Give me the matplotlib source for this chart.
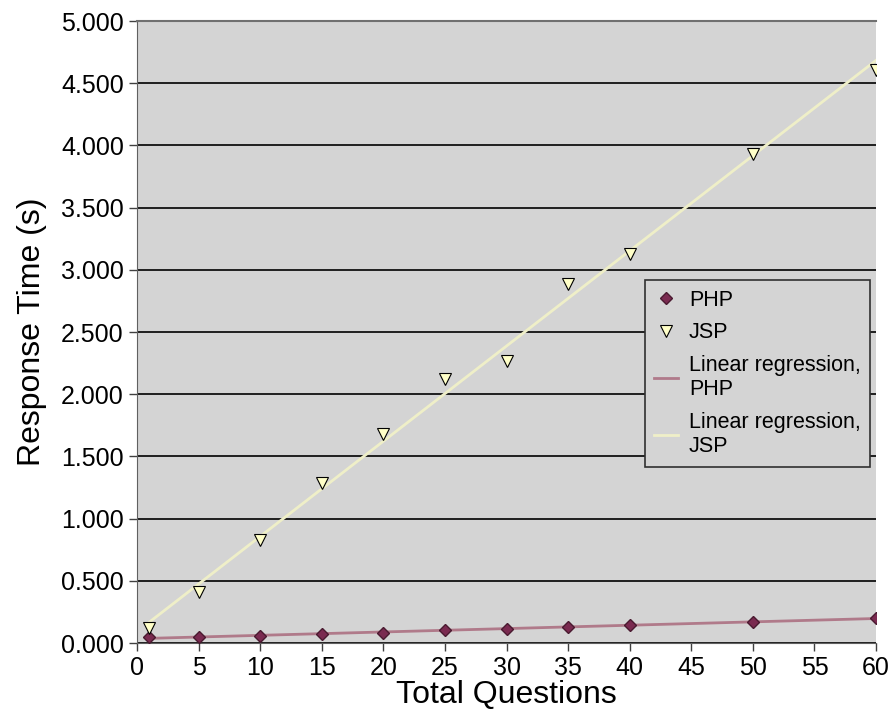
import numpy as np
import matplotlib
matplotlib.use('Agg')
from matplotlib import pyplot as plt
from matplotlib.ticker import FormatStrFormatter, MultipleLocator

plt.rcParams['font.family'] = ['Liberation Sans', 'DejaVu Sans']

questions = [1, 5, 10, 15, 20, 25, 30, 35, 40, 50, 60]
php_time = [0.048, 0.048, 0.059, 0.072, 0.080, 0.105, 0.115, 0.129, 0.145, 0.169, 0.201]
jsp_time = [0.12, 0.41, 0.83, 1.29, 1.68, 2.12, 2.27, 2.89, 3.13, 3.93, 4.61]

x = np.array(questions)
php_fit = np.polyfit(x, php_time, 1)
jsp_fit = np.polyfit(x, jsp_time, 1)
x_line = np.array([x.min(), x.max()])

fig = plt.figure(figsize=(8.93, 7.27), dpi=100)
ax = fig.add_axes([0.1534, 0.1155, 0.8276, 0.8555])
ax.set_facecolor('#d4d4d4')

ax.plot(x, php_time, linestyle='none', marker='D', markersize=6,
        markerfacecolor='#7a2a50', markeredgecolor='#4a1a30', label='PHP', zorder=4)
ax.plot(x, jsp_time, linestyle='none', marker='v', markersize=9,
        markerfacecolor='#ffffc8', markeredgecolor='black', markeredgewidth=0.8, label='JSP', zorder=4)
ax.plot(x_line, np.polyval(php_fit, x_line), color='#b07a8a', lw=2,
        label='Linear regression,\nPHP', zorder=3)
ax.plot(x_line, np.polyval(jsp_fit, x_line), color='#efefc8', lw=2,
        label='Linear regression,\nJSP', zorder=3)

ax.set_xlim(0, 60)
ax.set_ylim(0, 5)
ax.xaxis.set_major_locator(MultipleLocator(5))
ax.yaxis.set_major_locator(MultipleLocator(0.5))
ax.yaxis.set_major_formatter(FormatStrFormatter('%.3f'))
ax.grid(axis='y', color='black', lw=1.2)
ax.set_axisbelow(True)

ax.spines['top'].set_color('#707070')
ax.spines['top'].set_linewidth(1.5)
ax.spines['right'].set_visible(False)
ax.spines['left'].set_color('#606060')
ax.spines['bottom'].set_color('#606060')
ax.tick_params(axis='both', labelsize=18, length=6, color='#404040', width=1)

ax.set_xlabel('Total Questions', fontsize=23, labelpad=0)
ax.set_ylabel('Response Time (s)', fontsize=23, labelpad=10)

leg = ax.legend(loc='upper left', bbox_to_anchor=(0.687, 0.584), borderaxespad=0, fontsize=15.5,
                frameon=True, fancybox=False, facecolor='#d4d4d4', edgecolor='#303030',
                handlelength=1.1, handletextpad=0.5, borderpad=0.45, labelspacing=0.55)
leg.get_frame().set_linewidth(1.2)
leg.get_frame().set_alpha(1)

fig.savefig('out.png', dpi=100)
